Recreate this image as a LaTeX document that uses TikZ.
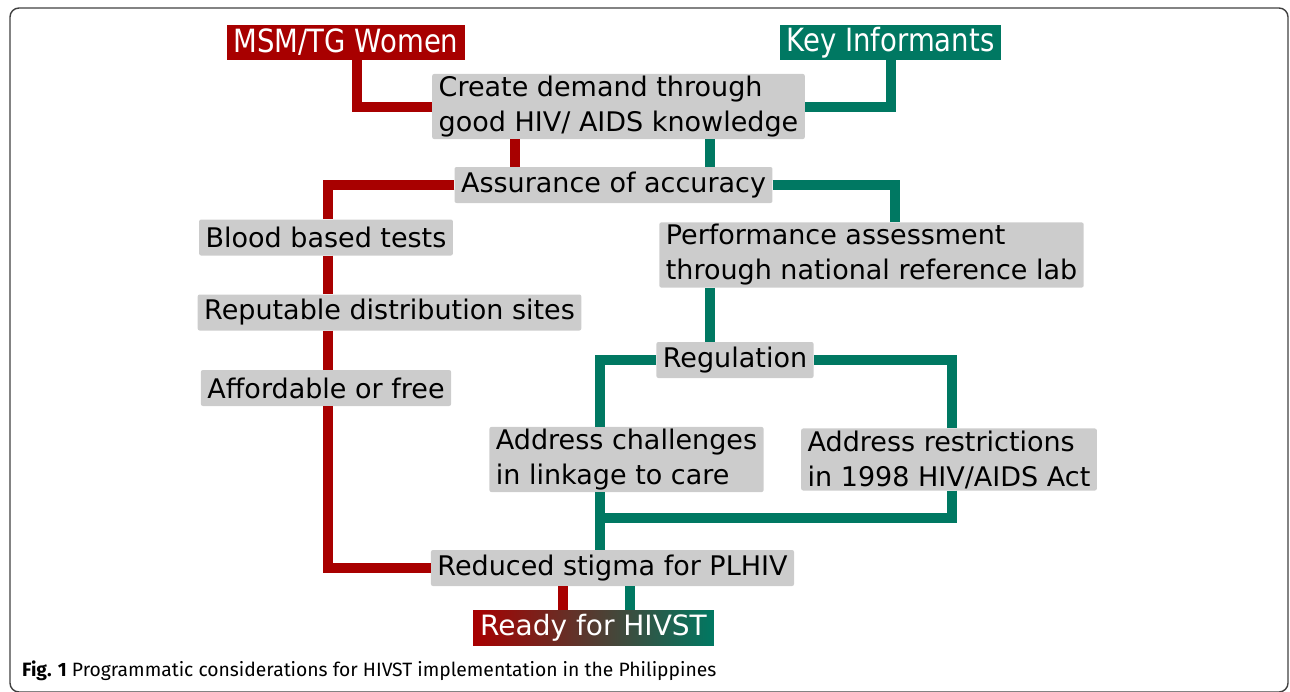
\documentclass[tikz,border=0pt]{standalone}
\usepackage{fontspec}
\setmainfont{DejaVu Sans}
\newfontfamily\narrowfont[FakeStretch=0.86]{DejaVu Sans}
\newfontfamily\captionfont{Fira Sans}
\definecolor{hivred}{RGB}{168,0,0}
\definecolor{hivgreen}{RGB}{0,120,98}
\definecolor{boxgray}{RGB}{204,204,204}
\tikzset{
  box/.style={fill=boxgray, rounded corners=2pt, inner xsep=6.5pt, inner ysep=2pt,
    minimum height=36pt, font=\fontsize{27}{35}\selectfont, align=left, text=black},
  group/.style={inner xsep=7pt, inner ysep=0pt, minimum height=35pt, text=white,
    font=\narrowfont\fontsize{32}{34}\selectfont},
  redline/.style={draw=hivred, line width=10pt},
  greenline/.style={draw=hivgreen, line width=10pt}
}
\begin{document}
\begin{tikzpicture}[x=1pt, y=-1pt]
        \useasboundingbox (0,0) rectangle (1290,691);
        \draw[rounded corners=9pt, line width=1.4pt, black!75] (10,8) rectangle (1288,692);

        % the two groups and the end point
        \node[group, fill=hivred]   (msm) at (346,42.5)  {MSM/TG Women};
        \node[group, fill=hivgreen] (key) at (890.5,42.5) {Key Informants};
        \node[group, left color=hivred, right color=hivgreen, minimum width=237pt,
              font=\fontsize{28}{30}\selectfont] (ready) at (593.5,627.5) {Ready for HIVST};

        % the considerations
        \begin{scope}[every node/.style={box}]
          \node (create) at (618.5,106.5) {Create demand through\\good HIV/ AIDS knowledge};
          \node (assure) at (613.5,185)   {Assurance of accuracy};
          \node (blood)  at (326,237.5)   {Blood based tests};
          \node (reput)  at (389.5,312.5) {Reputable distribution sites};
          \node (afford) at (326,388)     {Affordable or free};
          \node (perf)   at (871.5,255)   {Performance assessment\\through national reference lab};
          \node (regul)  at (735,360)     {Regulation};
          \node (chall)  at (626.5,459.5) {Address challenges\\in linkage to care};
          \node (restr)  at (949,459.5)   {Address restrictions\\in 1998 HIV/AIDS Act};
          \node (stigma) at (612.5,568)   {Reduced stigma for PLHIV};
        \end{scope}
        \coordinate (join) at (600,518);

        % red branch
        \path[redline] ([xshift=11pt]msm.south) |- (create.west);
        \path[redline] (create.south -| 515,0) -- (assure.north -| 515,0);
        \path[redline] (assure.west) -| ([xshift=2pt]blood.north);
        \path[redline] ([xshift=2pt]blood.south) -- ([xshift=2pt]blood.south |- reput.north);
        \path[redline] ([xshift=2pt]blood.south |- reput.south) -- ([xshift=2pt]afford.north);
        \path[redline] ([xshift=2pt]afford.south) |- (stigma.west);
        \path[redline] (stigma.south -| 563,0) -- (ready.north -| 563,0);

        % green branch
        \path[greenline] (key.south) |- (create.east);
        \path[greenline] (create.south -| 710,0) -- (assure.north -| 710,0);
        \path[greenline] (assure.east) -| (perf.north -| 895,0);
        \path[greenline] (perf.south -| 710,0) -- (regul.north -| 710,0);
        \path[greenline] (regul.west) -| (chall.north -| join);
        \path[greenline] (regul.east) -| ([xshift=3pt]restr.north);
        \path[greenline] (chall.south -| join) -- (stigma.north -| join);
        \path[greenline] ([xshift=3pt]restr.south) |- ([xshift=-5pt]join);
        \path[greenline] (stigma.south -| 630,0) -- (ready.north -| 630,0);

        \node[anchor=base west, inner sep=0pt, font=\captionfont\fontsize{19.3}{24}\selectfont]
          (caption) at (22,676) {\textbf{Fig. 1} Programmatic considerations for HIVST implementation in the Philippines};
\end{tikzpicture}
\end{document}
